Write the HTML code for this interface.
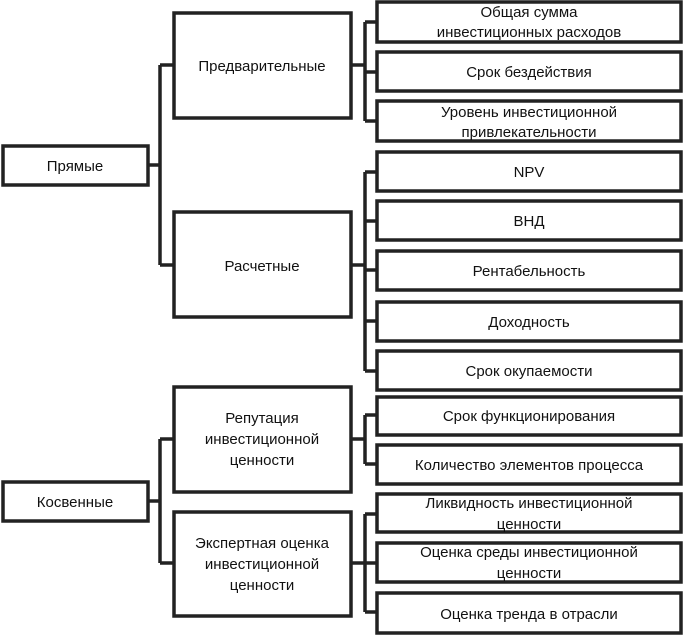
<!DOCTYPE html>
<html><head><meta charset="utf-8"><style>body{margin:0;background:#fff}svg{display:block}text{font-family:"Liberation Sans","DejaVu Sans",sans-serif;font-size:15px;fill:#111;text-anchor:middle}</style></head><body>
<svg width="684" height="635" viewBox="0 0 684 635" xmlns="http://www.w3.org/2000/svg">
<g fill="#fff" stroke="#222" stroke-width="3.5">
<rect x="3" y="146" width="145" height="39"/>
<rect x="3" y="482" width="145" height="39"/>
<rect x="174" y="13" width="177" height="105"/>
<rect x="174" y="212" width="177" height="105"/>
<rect x="174" y="387" width="177" height="105"/>
<rect x="174" y="512" width="177" height="104"/>
<rect x="377" y="2" width="304" height="40"/>
<rect x="377" y="52" width="304" height="39"/>
<rect x="377" y="101" width="304" height="40"/>
<rect x="377" y="152" width="304" height="39"/>
<rect x="377" y="201" width="304" height="39"/>
<rect x="377" y="251" width="304" height="39"/>
<rect x="377" y="302" width="304" height="39"/>
<rect x="377" y="351" width="304" height="39"/>
<rect x="377" y="397" width="304" height="38"/>
<rect x="377" y="445" width="304" height="39"/>
<rect x="377" y="494" width="304" height="38"/>
<rect x="377" y="543" width="304" height="39"/>
<rect x="377" y="593" width="304" height="40"/>
</g>
<g fill="none" stroke="#222" stroke-width="3.5">
<path d="M148 165H160M160 65V265M160 65H174M160 265H174"/>
<path d="M148 501H160M160 439V563M160 439H174M160 563H174"/>
<path d="M351 65H365M365 22V121M365 22H377M365 72H377M365 121H377"/>
<path d="M351 265H365M365 172V371M365 172H377M365 221H377M365 270H377M365 321H377M365 371H377"/>
<path d="M351 439H365M365 415V464M365 415H377M365 464H377"/>
<path d="M351 563H365M365 514V612M365 514H377M365 563H377M365 612H377"/>
</g>
<text x="75" y="171">Прямые</text>
<text x="75" y="507">Косвенные</text>
<text x="262" y="71">Предварительные</text>
<text x="262" y="271">Расчетные</text>
<text x="262" y="423">Репутация</text>
<text x="262" y="444">инвестиционной</text>
<text x="262" y="465">ценности</text>
<text x="262" y="548">Экспертная оценка</text>
<text x="262" y="569">инвестиционной</text>
<text x="262" y="590">ценности</text>
<text x="529" y="17">Общая сумма</text>
<text x="529" y="37">инвестиционных расходов</text>
<text x="529" y="77">Срок бездействия</text>
<text x="529" y="117">Уровень инвестиционной</text>
<text x="529" y="137">привлекательности</text>
<text x="529" y="177">NPV</text>
<text x="529" y="226">ВНД</text>
<text x="529" y="276">Рентабельность</text>
<text x="529" y="327">Доходность</text>
<text x="529" y="376">Срок окупаемости</text>
<text x="529" y="421">Срок функционирования</text>
<text x="529" y="470">Количество элементов процесса</text>
<text x="529" y="508">Ликвидность инвестиционной</text>
<text x="529" y="529">ценности</text>
<text x="529" y="557">Оценка среды инвестиционной</text>
<text x="529" y="578">ценности</text>
<text x="529" y="619">Оценка тренда в отрасли</text>
</svg>
</body></html>
